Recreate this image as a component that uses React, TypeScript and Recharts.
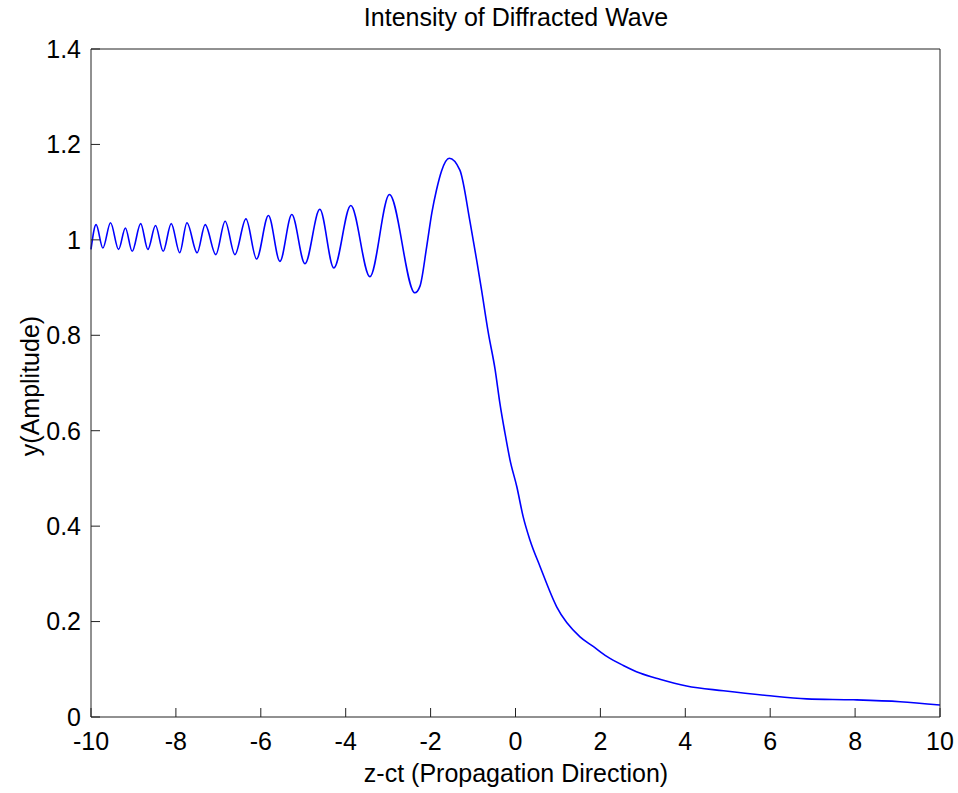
import { LineChart, Line, XAxis, YAxis } from 'recharts'

// z-ct positions and intensities
const zValues = [
  -10, -9.88, -9.72, -9.54, -9.35, -9.19, -9.03, -8.83, -8.66, -8.48, -8.3, -8.11, -7.91, -7.74,
  -7.5, -7.31, -7.06, -6.84, -6.61, -6.35, -6.1, -5.82, -5.55, -5.27, -4.96, -4.61, -4.28, -3.88,
  -3.43, -2.97, -2.37, -2.25, -2.09, -1.97, -1.86, -1.74, -1.56, -1.31, -1.07, -0.91, -0.8, -0.64,
  -0.48, -0.37, -0.25, -0.13, 0.03, 0.18, 0.34, 0.58, 0.97, 1.52, 1.83, 2.15, 2.54, 2.93, 3.4,
  4.03, 4.9, 5.92, 6.86, 7.96, 9.06, 10,
]
const amplitude = [
  0.98, 1.032, 0.983, 1.036, 0.98, 1.025, 0.976, 1.034, 0.98, 1.03, 0.976, 1.034, 0.973, 1.036,
  0.973, 1.032, 0.969, 1.039, 0.969, 1.044, 0.96, 1.051, 0.955, 1.053, 0.95, 1.064, 0.941, 1.072,
  0.923, 1.095, 0.889, 0.903, 0.987, 1.057, 1.105, 1.145, 1.171, 1.146, 1.037, 0.955, 0.895, 0.805,
  0.728, 0.659, 0.596, 0.539, 0.483, 0.42, 0.371, 0.315, 0.231, 0.168, 0.148, 0.127, 0.108, 0.092,
  0.079, 0.065, 0.055, 0.045, 0.038, 0.036, 0.032, 0.025,
]
const xTicks = [-10, -8, -6, -4, -2, 0, 2, 4, 6, 8, 10]
const yTicks = [0, 0.2, 0.4, 0.6, 0.8, 1, 1.2, 1.4]

const data = zValues.map((z, i) => ({ z, y: amplitude[i] }))

const font = '"Liberation Sans", Arial, sans-serif'
const axisColor = '#222'
const tickStyle = { fontSize: 25, fill: '#000', fontFamily: font }

export default function App() {
  return (
    <div style={{ position: 'absolute', left: 0, top: 0, width: 958, height: 793, background: '#fff' }}>
      <div
        style={{
          position: 'absolute',
          left: 516,
          top: 17,
          transform: 'translate(-50%, -50%)',
          fontFamily: font,
          fontSize: 25,
          lineHeight: '25px',
          whiteSpace: 'nowrap',
        }}
      >
        Intensity of Diffracted Wave
      </div>
      <div
        style={{
          position: 'absolute',
          left: 516,
          top: 773,
          transform: 'translate(-50%, -50%)',
          fontFamily: font,
          fontSize: 25,
          lineHeight: '25px',
          whiteSpace: 'nowrap',
        }}
      >
        z-ct (Propagation Direction)
      </div>
      <div
        style={{
          position: 'absolute',
          left: 30,
          top: 386,
          transform: 'translate(-50%, -50%) rotate(-90deg)',
          fontFamily: font,
          fontSize: 25,
          lineHeight: '25px',
          whiteSpace: 'nowrap',
        }}
      >
        y(Amplitude)
      </div>
      <LineChart
        width={958}
        height={793}
        data={data}
        margin={{ top: 48, right: 17, bottom: 0, left: 0 }}
      >
        <XAxis
          xAxisId="b"
          dataKey="z"
          type="number"
          domain={[-10, 10]}
          ticks={xTicks}
          height={76}
          tickSize={-9}
          tickMargin={24}
          stroke={axisColor}
          tick={tickStyle}
          interval={0}
        />
        <XAxis
          xAxisId="t"
          orientation="top"
          dataKey="z"
          type="number"
          domain={[-10, 10]}
          ticks={xTicks}
          height={1}
          tickSize={-9}
          stroke={axisColor}
          tick={false}
          interval={0}
        />
        <YAxis
          yAxisId="l"
          type="number"
          domain={[0, 1.4]}
          ticks={yTicks}
          width={91}
          tickSize={-9}
          tickMargin={19}
          stroke={axisColor}
          tick={tickStyle}
          interval={0}
        />
        <YAxis
          yAxisId="r"
          orientation="right"
          type="number"
          domain={[0, 1.4]}
          ticks={yTicks}
          width={1}
          tickSize={-9}
          stroke={axisColor}
          tick={false}
          interval={0}
        />
        <Line
          xAxisId="b"
          yAxisId="l"
          type="monotone"
          dataKey="y"
          stroke="#0000ff"
          strokeWidth={1.6}
          dot={false}
          isAnimationActive={false}
        />
      </LineChart>
    </div>
  )
}
